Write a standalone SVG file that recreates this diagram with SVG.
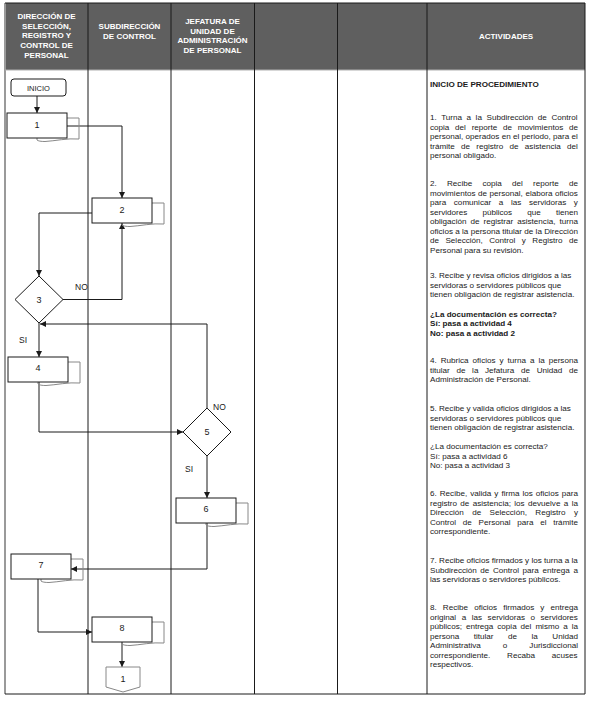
<svg xmlns="http://www.w3.org/2000/svg" xmlns:xlink="http://www.w3.org/1999/xlink" width="590" height="701" viewBox="0 0 590 701">
<style>
.grid{stroke:#1a1a1a;stroke-width:1;fill:none}
.hdr{font-family:"Liberation Sans",Arial,sans-serif;font-size:8px;font-weight:bold;fill:#ffffff;text-anchor:middle}
.node{fill:#ffffff;stroke:#1a1a1a;stroke-width:1}
.back{fill:none;stroke:#888888;stroke-width:1}
.lbl{font-family:"Liberation Sans",Arial,sans-serif;font-size:9px;fill:#1a1a1a;text-anchor:middle}
.tag{font-family:"Liberation Sans",Arial,sans-serif;font-size:8.5px;fill:#1a1a1a}
.conn{fill:none;stroke:#1a1a1a;stroke-width:1}
.act{font-family:"Liberation Sans",Arial,sans-serif;font-size:8.1px;fill:#1a1a1a}
.b{font-weight:bold}
</style>
<defs>
<marker id="ah" markerWidth="6" markerHeight="6" refX="6" refY="3" orient="auto" markerUnits="userSpaceOnUse">
<path d="M0,0 L6,3 L0,6 Z" fill="#1a1a1a"/>
</marker>
<g id="doc">
<path class="back" d="M60,5 H72 V26 C60,25 48,28 38,28.5 C34,28.5 31,28 30,27 V25"/>
<rect class="node" x="0" y="0" width="60" height="25"/>
</g>
</defs>
<rect x="0" y="0" width="590" height="701" fill="#ffffff"/>
<g id="table">
<rect x="5" y="3" width="580" height="67" fill="#5f5f5f"/>
<line x1="5" y1="3" x2="5" y2="694" stroke="#9a9a9a" stroke-width="2"/>
<line class="grid" x1="5" y1="3" x2="585" y2="3"/>
<line class="grid" x1="5" y1="694" x2="585" y2="694"/>
<line x1="5" y1="70" x2="585" y2="70" stroke="#b0b0b0" stroke-width="1"/>
<line class="grid" x1="88" y1="3" x2="88" y2="694"/>
<line class="grid" x1="171" y1="3" x2="171" y2="694"/>
<line class="grid" x1="254.5" y1="3" x2="254.5" y2="694"/>
<line class="grid" x1="337.5" y1="3" x2="337.5" y2="694"/>
<line class="grid" x1="427" y1="3" x2="427" y2="694"/>
<line class="grid" x1="585" y1="3" x2="585" y2="694"/>
<text class="hdr"><tspan x="46.5" y="19">DIRECCIÓN DE</tspan><tspan x="46.5" y="28.7">SELECCIÓN,</tspan><tspan x="46.5" y="38.4">REGISTRO Y</tspan><tspan x="46.5" y="48.1">CONTROL DE</tspan><tspan x="46.5" y="57.8">PERSONAL</tspan></text>
<text class="hdr"><tspan x="129.5" y="29">SUBDIRECCIÓN</tspan><tspan x="129.5" y="38.7">DE CONTROL</tspan></text>
<text class="hdr"><tspan x="212.5" y="24">JEFATURA DE</tspan><tspan x="212.5" y="33.7">UNIDAD DE</tspan><tspan x="212.5" y="43.4">ADMINISTRACIÓN</tspan><tspan x="212.5" y="53.1">DE PERSONAL</tspan></text>
<text class="hdr" x="506" y="39">ACTIVIDADES</text>
</g>
<g id="connectors">
<path class="conn" d="M37,96 V113" marker-end="url(#ah)"/>
<path class="conn" d="M67,126 H122 V198" marker-end="url(#ah)"/>
<path class="conn" d="M92,213 H39 V276" marker-end="url(#ah)"/>
<path class="conn" d="M63,299.5 H122 V223" marker-end="url(#ah)"/>
<path class="conn" d="M39,323 V357" marker-end="url(#ah)"/>
<path class="conn" d="M207,408 V324 H40" marker-end="url(#ah)"/>
<path class="conn" d="M39,382 V432 H183" marker-end="url(#ah)"/>
<path class="conn" d="M207,456 V498" marker-end="url(#ah)"/>
<path class="conn" d="M207,523 V569 H71" marker-end="url(#ah)"/>
<path class="conn" d="M38,579 V632 H92" marker-end="url(#ah)"/>
<path class="conn" d="M122,642 V667" marker-end="url(#ah)"/>
<text class="tag" x="75" y="290">NO</text>
<text class="tag" x="19" y="343">SI</text>
<text class="tag" x="213" y="410">NO</text>
<text class="tag" x="185" y="472">SI</text>
</g>
<g id="inicio">
<rect class="node" x="11" y="79" width="55" height="17" rx="3"/>
<text class="lbl" x="38.5" y="91" style="font-size:7.5px">INICIO</text>
</g>
<g id="n1"><use xlink:href="#doc" x="7" y="113"/><text class="lbl" x="37" y="128">1</text></g>
<g id="n2"><use xlink:href="#doc" x="92" y="198"/><text class="lbl" x="122" y="213">2</text></g>
<g id="n3"><path class="node" d="M39,276 L63,299.5 L39,323 L15,299.5 Z"/><text class="lbl" x="39" y="302.5">3</text></g>
<g id="n4"><use xlink:href="#doc" x="8" y="357"/><text class="lbl" x="38" y="371">4</text></g>
<g id="n5"><path class="node" d="M207,408 L231,432 L207,456 L183,432 Z"/><text class="lbl" x="207" y="435">5</text></g>
<g id="n6"><use xlink:href="#doc" x="176" y="498"/><text class="lbl" x="206" y="512">6</text></g>
<g id="n7"><use xlink:href="#doc" x="11" y="554"/><text class="lbl" x="41" y="568">7</text></g>
<g id="n8"><use xlink:href="#doc" x="92" y="617"/><text class="lbl" x="122" y="631">8</text></g>
<g id="off1"><path d="M106,667 H140 V687 L123,692 L106,687 Z" fill="#ffffff" stroke="#888888" stroke-width="1"/><text class="lbl" x="123" y="682">1</text></g>
<g id="activities">
<text class="act b" x="430" y="87">INICIO DE PROCEDIMIENTO</text>
<text class="act" x="430" y="120" style="word-spacing:2.31px">1. Turna a la Subdirección de Control</text>
<text class="act" x="430" y="129.5" style="word-spacing:3.49px">copia del reporte de movimientos de</text>
<text class="act" x="430" y="139" style="word-spacing:0.05px">personal, operados en el periodo, para el</text>
<text class="act" x="430" y="148.5" style="word-spacing:4.03px">trámite de registro de asistencia del</text>
<text class="act" x="430" y="158">personal obligado.</text>
<text class="act" x="430" y="186" style="word-spacing:7.99px">2. Recibe copia del reporte de</text>
<text class="act" x="430" y="195.5" style="word-spacing:0.31px">movimientos de personal, elabora oficios</text>
<text class="act" x="430" y="205" style="word-spacing:5.38px">para comunicar a las servidoras y</text>
<text class="act" x="430" y="214.5" style="word-spacing:12.87px">servidores públicos que tienen</text>
<text class="act" x="430" y="224" style="word-spacing:1.77px">obligación de registrar asistencia, turna</text>
<text class="act" x="430" y="233.5" style="word-spacing:0.05px">oficios a la persona titular de la Dirección</text>
<text class="act" x="430" y="243" style="word-spacing:4.21px">de Selección, Control y Registro de</text>
<text class="act" x="430" y="252.5">Personal para su revisión.</text>
<text class="act" x="430" y="278">3. Recibe y revisa oficios dirigidos a las</text>
<text class="act" x="430" y="287.5">servidoras o servidores públicos que</text>
<text class="act" x="430" y="297">tienen obligación de registrar asistencia.</text>
<text class="act b" x="430" y="316.5">¿La documentación es correcta?</text>
<text class="act b" x="430" y="326">Sí: pasa a actividad 4</text>
<text class="act b" x="430" y="335.5">No: pasa a actividad 2</text>
<text class="act" x="430" y="363" style="word-spacing:1.72px">4. Rubrica oficios y turna a la persona</text>
<text class="act" x="430" y="372.5" style="word-spacing:4.41px">titular de la Jefatura de Unidad de</text>
<text class="act" x="430" y="382">Administración de Personal.</text>
<text class="act" x="430" y="411">5. Recibe y valida oficios dirigidos a las</text>
<text class="act" x="430" y="420.5">servidoras o servidores públicos que</text>
<text class="act" x="430" y="430">tienen obligación de registrar asistencia.</text>
<text class="act" x="430" y="449">¿La documentación es correcta?</text>
<text class="act" x="430" y="458.5">Sí: pasa a actividad 6</text>
<text class="act" x="430" y="468">No: pasa a actividad 3</text>
<text class="act" x="430" y="496" style="word-spacing:0.76px">6. Recibe, valida y firma los oficios para</text>
<text class="act" x="430" y="505.5" style="word-spacing:1.11px">registro de asistencia; los devuelve a la</text>
<text class="act" x="430" y="515" style="word-spacing:6.17px">Dirección de Selección, Registro y</text>
<text class="act" x="430" y="524.5" style="word-spacing:4.48px">Control de Personal para el trámite</text>
<text class="act" x="430" y="534">correspondiente.</text>
<text class="act" x="430" y="563" style="word-spacing:0.04px">7. Recibe oficios firmados y los turna a la</text>
<text class="act" x="430" y="572.5" style="word-spacing:1.33px">Subdirección de Control para entrega a</text>
<text class="act" x="430" y="582">las servidoras o servidores públicos.</text>
<text class="act" x="430" y="610" style="word-spacing:3.85px">8. Recibe oficios firmados y entrega</text>
<text class="act" x="430" y="619.5" style="word-spacing:3.31px">original a las servidoras o servidores</text>
<text class="act" x="430" y="629" style="word-spacing:1.71px">públicos; entrega copia del mismo a la</text>
<text class="act" x="430" y="638.5" style="word-spacing:12.24px">persona titular de la Unidad</text>
<text class="act" x="430" y="648" style="word-spacing:19.76px">Administrativa o Jurisdiccional</text>
<text class="act" x="430" y="657.5" style="word-spacing:14.57px">correspondiente. Recaba acuses</text>
<text class="act" x="430" y="667">respectivos.</text>
</g>
</svg>
